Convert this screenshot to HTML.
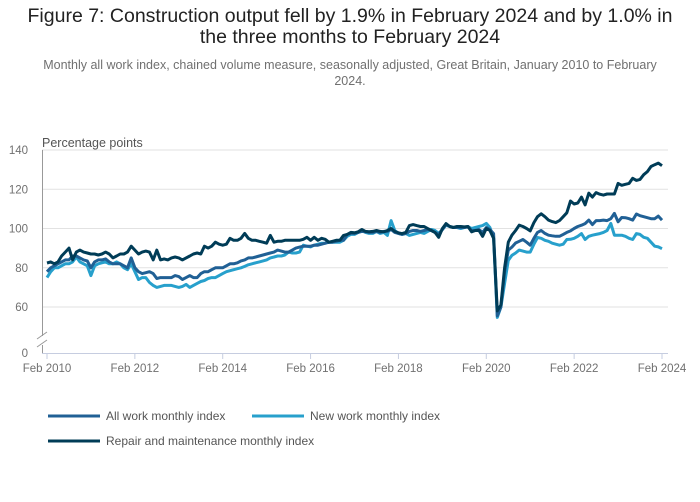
<!DOCTYPE html>
<html><head><meta charset="utf-8">
<style>
body{margin:0;background:#fff;font-family:"Liberation Sans",sans-serif;}
#wrap{position:relative;width:700px;height:502px;overflow:hidden;}
h1{position:absolute;left:15px;top:6px;width:670px;margin:0;text-align:center;font-weight:normal;font-size:19.5px;line-height:21px;color:#222;}
.sub{position:absolute;left:40px;top:57px;width:620px;text-align:center;font-size:12.5px;line-height:16px;color:#707070;}
</style></head>
<body><div id="wrap">
<h1>Figure 7: Construction output fell by 1.9% in February 2024 and by 1.0% in<br>the three months to February 2024</h1>
<div class="sub">Monthly all work index, chained volume measure, seasonally adjusted, Great Britain, January 2010 to February 2024.</div>
<svg id="chart" width="700" height="502" style="position:absolute;left:0;top:0"></svg>
</div>
<script>
const yTicks=[0,60,80,100,120,140];
const xTickLabels=["Feb 2010","Feb 2012","Feb 2014","Feb 2016","Feb 2018","Feb 2020","Feb 2022","Feb 2024"];
const xTickMonths=[0,24,48,72,96,120,144,168];
const seriesNames=["All work monthly index","New work monthly index","Repair and maintenance monthly index"];
const allWork=[78,80,81,82,83,84,84,86,86,85,84,83.5,80,83,84,84,84.5,83,82,82,82,81,80,85,80,78,77,77.5,78,77,74.5,75,75,75,75,76,75.5,74,75,76,75,75,77,78,78,79,80,80,80,81,82,82,82.5,83.5,84,85,85,85.5,86,86.5,87,87.5,88,89,88.5,88,88,89,90,90.5,91,91,91,91.5,91.5,92,92.5,93,93,93.5,94,94,97,97.5,97.5,98,98.5,98.3,98,98,98.5,98,98.5,98.5,99.5,98,97.5,97,97.5,98.5,99,99,98.5,99,99.5,99,98,97,99.5,102,101,100.5,100.5,100.5,100.5,100.8,99,99,99.5,98,100.5,99.5,97.4,55.5,60,78,89,90.5,92.6,93.5,94.4,93,91.5,95,98,99,97.5,96.6,96.3,96,96,97,98,98.8,100,101,101.7,102.5,104.3,102,104,104,104.3,104,105,107.7,103.4,105.6,105.5,105,104.3,107.4,106.5,106,105.5,105,105,106.3,104.3];
const newWork=[75,78,80,80,81,82,82,83,85.5,83,82,81,76,81,82,82.5,83,82,82,83,82,80,79,82,78,74,75,75,72.5,71,70,70.5,71,71,71,70.5,70,70.5,71.5,70,71,72,73,73.5,74.5,75,75,76,77,78,78.5,79,79.5,80,80.7,81.5,82,82.5,83,83.5,84,85,85.5,86,86,86.5,88,87.5,87.5,88,91.5,91,90.6,91.5,92,92.5,92.5,93,93,93,93,94,96,97,97,98,99,98,97.5,97.5,98.5,97.5,98,96.5,104,99,97.5,97,97.5,96.5,97,97.5,98,97.5,98.5,99.5,99,97.5,99.5,101.7,101,100.5,100.5,100,100.5,101,100,100.5,101,101.5,102.6,100.5,95,54.7,60,72,83.8,86.3,87.5,89,88.5,88,88,92,95.4,95,94,93.5,92.5,92,91.5,92,94.4,94.5,95,96,97.4,94.4,96,96.6,97,97.4,98,99,102.6,96.6,96.6,96.6,96,95,94.4,97.4,97,95.5,95,93,91,90.6,89.7];
const repair=[82.4,83,82,83,86,88,90,84,88,89,88,87.5,87,87,86.5,87,88,87,85,86,87,87,88,91,89,87,88,88.5,88,84,89,84,84.5,84,85,85.5,85,84,85,86,87,87.5,87,91,90,91,93,92,91.5,92,95,94,94,95,97.5,95,94,94,93.5,93,92.5,96.5,93,93.5,93.5,94,94,94,94,94,94.5,95.5,94,95.5,94,95,94.5,93,93.5,94,94,96.5,97,98,97.8,98.3,99.5,98.5,98.3,98.5,99,98.5,98.3,99,100,98.5,97.8,97.4,98,101.5,102,101.5,101,101,100,99,98,95.5,100,102.5,101,100.5,101,101,100.8,101,98.3,99,99,96,100,99,95,58,61,80,93,96.6,99,101.7,101,100,98.8,103,106,107.5,106,104.3,103.5,103,104,106,108,114,112.5,113,116,112,118,116,118.3,117.5,117,117.6,117.6,117.6,123,122,122.5,123,125.6,124.5,125,127.4,129,131.6,132.5,133.3,132];
const svg=document.getElementById('chart');const NS='http://www.w3.org/2000/svg';
function mk(t,a,p){const e=document.createElementNS(NS,t);for(const k in a)e.setAttribute(k,a[k]);(p||svg).appendChild(e);return e;}
const X0=47,X1=662,NM=168;
function xs(m){return X0+(X1-X0)*m/NM;}
function ys(v){if(v<=0)return 353;return 150+(140-v)*(157/80);}
yTicks.forEach(v=>{
 if(v>0){const g=mk('line',{x1:42,x2:668,y1:ys(v),y2:ys(v),stroke:'#e2e2e2','stroke-width':1});
 
 }
 const t=mk('text',{x:28,y:ys(v)+4,'text-anchor':'end','font-size':11.5,fill:'#707070'});t.textContent=v;
 
 
});
const ax=mk('path',{d:'M42.5 150 V336 M42.5 345 V353',stroke:'#999','stroke-width':1,fill:'none'});


const br=mk('path',{d:'M37 339 L47 332 M37 347 L47 340',stroke:'#999','stroke-width':1,fill:'none'});


const xa=mk('line',{x1:42,x2:668,y1:353.5,y2:353.5,stroke:'#c6cde0','stroke-width':1});


xTickMonths.forEach((m,i)=>{
 const tk=mk('line',{x1:xs(m),x2:xs(m),y1:353,y2:359,stroke:'#c6cde0','stroke-width':1});
 
 
 const t=mk('text',{x:xs(m),y:372,'text-anchor':'middle','font-size':11.5,fill:'#707070'});t.textContent=xTickLabels[i];
 
 
});
const yt=mk('text',{x:42,y:147,'font-size':12.5,fill:'#555'});yt.textContent='Percentage points';


const colors=['#206095','#27a0cc','#003c57'];
const data=[allWork,newWork,repair];
const order=[1,0,2];
order.forEach(i=>{
 const d=data[i].map((v,m)=>(m?'L':'M')+xs(m).toFixed(1)+' '+ys(v).toFixed(1)).join(' ');
 const p=mk('path',{d:d,stroke:colors[i],'stroke-width':3,fill:'none','stroke-linejoin':'round'});
 
 
});
const leg=[[48,416],[252,416],[48,441]];
leg.forEach((pt,i)=>{
 const g=mk('g',{});
 
 
 mk('line',{x1:pt[0],x2:pt[0]+52,y1:pt[1],y2:pt[1],stroke:colors[i],'stroke-width':3},g);
 const t=mk('text',{x:pt[0]+58,y:pt[1]+4,'font-size':12,fill:'#555'},g);t.textContent=seriesNames[i];
});
</script>
</body></html>
